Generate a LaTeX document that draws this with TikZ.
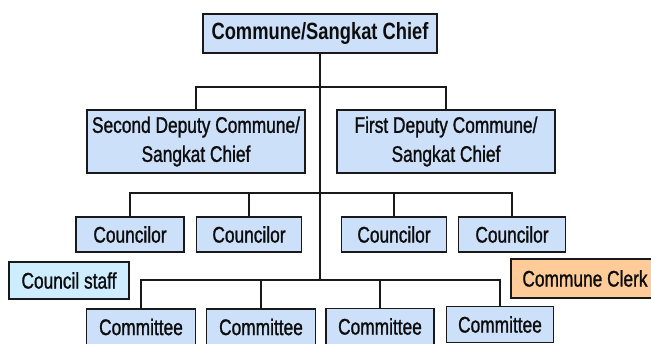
\documentclass[tikz,border=0pt]{standalone}
\usepackage{fontspec}
\setmainfont{Liberation Sans}[FakeStretch=0.77]
\newfontfamily\condreg{Liberation Sans}[FakeStretch=0.77, FakeBold=1.2]
\newfontfamily\condbold{Liberation Sans Bold}[FakeStretch=0.78]
\definecolor{boxblue}{RGB}{205,224,250}
\definecolor{staffcyan}{RGB}{206,238,255}
\definecolor{clerkorange}{RGB}{255,204,153}
\definecolor{edge}{RGB}{25,25,25}
\tikzset{
  orgbox/.style={draw=edge, line width=1.6pt, fill=boxblue, inner sep=0pt,
    align=center, font=\condreg\fontsize{22.5}{29}\selectfont, text=black!95},
  conn/.style={draw=edge, line width=1.3pt},
}
\begin{document}
\begin{tikzpicture}[x=1pt,y=-1pt]
\useasboundingbox (0,0) rectangle (651,343);
\clip (0,0) rectangle (651,343);
\fill[white] (0,0) rectangle (651,343);
% nodes
\node[orgbox, minimum width=234pt, minimum height=39pt, font=\condbold\fontsize{23.5}{29}\selectfont] (chief) at (320,33.5) {Commune/Sangkat Chief};
\node[orgbox, minimum width=218pt, minimum height=63pt] (dep2) at (196,141.5) {Second Deputy Commune/\\Sangkat Chief};
\node[orgbox, minimum width=218pt, minimum height=63pt] (dep1) at (446,141.5) {First Deputy Commune/\\Sangkat Chief};
\node[orgbox, minimum width=108pt, minimum height=35pt] (c1) at (130,234.5) {Councilor};
\node[orgbox, minimum width=105pt, minimum height=35pt] (c2) at (249,234.5) {Councilor};
\node[orgbox, minimum width=105pt, minimum height=35pt] (c3) at (394,234.5) {Councilor};
\node[orgbox, minimum width=107pt, minimum height=35pt] (c4) at (512,234.5) {Councilor};
\node[orgbox, fill=staffcyan, minimum width=120pt, minimum height=37pt] (staff) at (69,280.5) {Council staff};
\node[orgbox, fill=clerkorange, minimum width=148pt, minimum height=39pt] (clerk) at (585,278.5) {Commune Clerk};
\node[orgbox, minimum width=109pt, minimum height=36pt] (m1) at (141,327) {Committee};
\node[orgbox, minimum width=109pt, minimum height=36pt] (m2) at (261,327) {Committee};
\node[orgbox, minimum width=108pt, minimum height=36pt] (m3) at (380,326.5) {Committee};
\node[orgbox, minimum width=107pt, minimum height=36pt] (m4) at (500,324.5) {Committee};
% bus junctions
\coordinate (j1) at (320,87);
\coordinate (j2) at (320,193);
\coordinate (j3) at (320,280);
% connectors
\draw[conn] (chief.south) -- (j3);
\draw[conn] (dep2.north) |- (j1) -| (dep1.north);
\draw[conn] (c1.north) |- (j2) -| (c4.north);
\draw[conn] (c2.north) |- (j2);
\draw[conn] (c3.north) |- (j2);
\draw[conn] (m1.north) |- (j3) -| (m4.north);
\draw[conn] (m2.north) |- (j3);
\draw[conn] (m3.north) |- (j3);
\end{tikzpicture}
\end{document}
